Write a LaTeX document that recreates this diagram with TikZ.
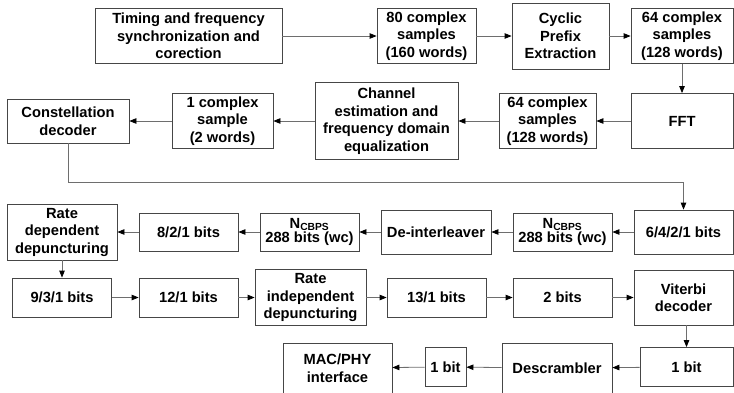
\documentclass[tikz,border=0pt]{standalone}
\usepackage{fontspec}
\setmainfont{Liberation Sans}
\usetikzlibrary{arrows.meta,positioning}
\definecolor{boxgray}{RGB}{70,70,70}
\definecolor{linegray}{RGB}{110,110,110}

\begin{document}
\begin{tikzpicture}[x=1pt, y=-1pt,
    every node/.style={font=\fontsize{14.7}{17.5}\selectfont\bfseries},
    blk/.style={draw=boxgray, line width=0.8pt, align=center, inner sep=1pt},
    conn/.style={draw=linegray, line width=0.8pt, -{Triangle[length=7pt,width=5.5pt,color=black]}}]
  \useasboundingbox (0,0) rectangle (734,392);
  \clip (0,0) rectangle (734,392);
  % --- row 1: synchronization and prefix removal ---
  \node[blk, minimum width=187, minimum height=55] (timing) at (188.5,36) {Timing and frequency\\synchronization and\\corection};
  \node[blk, minimum width=99,  minimum height=55] (s80)    at (426.5,36) {80 complex\\samples\\(160 words)};
  \node[blk, minimum width=97,  minimum height=66] (cpe)    at (560.5,36) {Cyclic\\Prefix\\Extraction};
  \node[blk, minimum width=102, minimum height=55] (s64a)   at (682,36)   {64 complex\\samples\\(128 words)};
  % --- row 2: FFT and equalization ---
  \node[blk, minimum width=102, minimum height=55] (fft)    at (682,121)   {FFT};
  \node[blk, minimum width=97,  minimum height=55] (s64b)   at (547.5,121) {64 complex\\samples\\(128 words)};
  \node[blk, minimum width=143, minimum height=77] (chan)   at (386.5,121) {Channel\\estimation and\\frequency domain\\equalization};
  \node[blk, minimum width=101, minimum height=55] (s1)     at (222.5,121) {1 complex\\sample\\(2 words)};
  \node[blk, minimum width=122, minimum height=44] (const)  at (68,121)    {Constellation\\decoder};
  % --- row 3: de-interleaving ---
  \node[blk, minimum width=99,  minimum height=44] (b6421)  at (683.5,232) {6/4/2/1 bits};
  \node[blk, minimum width=99,  minimum height=38] (ncbb)   at (562.5,232) {N\textsubscript{CBPS}\\[-3pt]288 bits (wc)};
  \node[blk, minimum width=110, minimum height=44] (deint)  at (436,232)   {De-interleaver};
  \node[blk, minimum width=99,  minimum height=38] (ncba)   at (309.5,232) {N\textsubscript{CBPS}\\[-3pt]288 bits (wc)};
  \node[blk, minimum width=99,  minimum height=38] (b821)   at (188.5,232) {8/2/1 bits};
  \node[blk, minimum width=110, minimum height=56] (rdd)    at (62,232)    {Rate\\dependent\\depuncturing};
  % --- row 4: depuncturing and Viterbi ---
  \node[blk, minimum width=99,  minimum height=39] (b931)   at (62,297.5)    {9/3/1 bits};
  \node[blk, minimum width=99,  minimum height=39] (b121)   at (188.5,297.5) {12/1 bits};
  \node[blk, minimum width=111, minimum height=56] (rid)    at (310.5,297.5) {Rate\\independent\\depuncturing};
  \node[blk, minimum width=99,  minimum height=39] (b131)   at (436.5,297.5) {13/1 bits};
  \node[blk, minimum width=99,  minimum height=39] (b2)     at (562.5,297.5) {2 bits};
  \node[blk, minimum width=99,  minimum height=55] (vit)    at (683.5,297.5) {Viterbi\\decoder};
  % --- row 5: descrambling ---
  \node[blk, minimum width=93,  minimum height=39] (b1b)    at (686.5,367) {1 bit};
  \node[blk, minimum width=110, minimum height=50] (desc)   at (557,368)   {Descrambler};
  \node[blk, minimum width=41,  minimum height=39] (b1a)    at (445.5,367) {1 bit};
  \node[blk, minimum width=109, minimum height=50] (mac)    at (337.5,368) {MAC/PHY\\interface};
  % --- connectors ---
  \foreach \a/\b in {timing/s80, s80/cpe, cpe/s64a,
                     fft/s64b, s64b/chan, chan/s1, s1/const,
                     b6421/ncbb, ncbb/deint, deint/ncba, ncba/b821, b821/rdd,
                     b931/b121, b121/rid, rid/b131, b131/b2, b2/vit,
                     b1b/desc, desc/b1a, b1a/mac}{
    \draw[conn] (\a) -- (\b);
  }
  \draw[conn] (s64a) -- (fft);
  \draw[conn] (rdd) -- (b931);
  \draw[conn] (vit.south -| b1b) -- (b1b);
  % long return from row 2 to row 3
  \coordinate (bend) at (0,182);
  \draw[conn] (const.south) -- (const.south |- bend) -| (b6421.north);
\end{tikzpicture}
\end{document}
